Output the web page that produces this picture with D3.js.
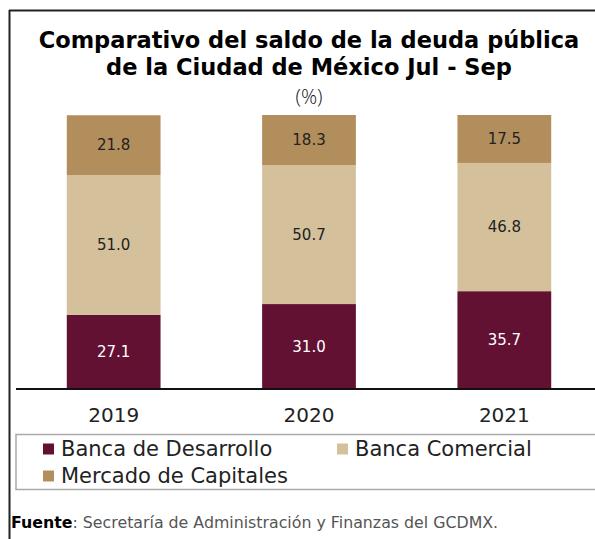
<!DOCTYPE html>
<html>
<head>
<meta charset="utf-8">
<script src="https://cdn.jsdelivr.net/npm/d3@7/dist/d3.min.js"></script>
<style>
  html, body { margin: 0; padding: 0; background: #fff; }
  svg { display: block; font-family: "DejaVu Sans", sans-serif; }
</style>
</head>
<body>
<svg id="chart" width="595" height="539"></svg>
<script>
// Debt composition by source, third quarter, percent of total
const years = ["2019", "2020", "2021"];
const bancaDesarrollo = [27.1, 31.0, 35.7];
const bancaComercial = [51.0, 50.7, 46.8];
const mercadoCapitales = [21.8, 18.3, 17.5];

const seriesNames = ["Banca de Desarrollo", "Banca Comercial", "Mercado de Capitales"];
const seriesColors = ["#621132", "#D4C19C", "#B38E5D"];
const labelColors = ["#ffffff", "#222222", "#222222"];

const rows = years.map((y, i) => ({
  year: y,
  "Banca de Desarrollo": bancaDesarrollo[i],
  "Banca Comercial": bancaComercial[i],
  "Mercado de Capitales": mercadoCapitales[i]
}));

const svg = d3.select("#chart");
const W = 595, H = 539;
const light = "'Open Sans', sans-serif";

// outer frame (left and top edges)
svg.append("line").attr("x1", 9.5).attr("x2", 9.5).attr("y1", 10).attr("y2", H)
  .attr("stroke", "#222").attr("stroke-width", 2);
svg.append("line").attr("x1", 9).attr("x2", W).attr("y1", 10.5).attr("y2", 10.5)
  .attr("stroke", "#222").attr("stroke-width", 2);

// title
svg.append("text").attr("x", 309).attr("y", 48).attr("text-anchor", "middle")
  .attr("font-size", 22.5).attr("font-weight", 700).attr("fill", "#000")
  .text("Comparativo del saldo de la deuda pública");
svg.append("text").attr("x", 309).attr("y", 75).attr("text-anchor", "middle")
  .attr("font-size", 22.5).attr("font-weight", 700).attr("fill", "#000")
  .text("de la Ciudad de México Jul - Sep");
svg.append("text").attr("x", 309).attr("y", 104).attr("text-anchor", "middle")
  .attr("font-size", 20).attr("font-weight", 300).attr("font-family", light).attr("fill", "#111")
  .text("(%)");

// scales
const baseY = 389, topY = 115;
const x = d3.scaleBand().domain(years).range([16, 602]).paddingInner(0.52).paddingOuter(0.26);
const y = d3.scaleLinear().domain([0, 100]).range([baseY, topY]);

const stacked = d3.stack().keys(seriesNames)(rows);

const groups = svg.append("g").selectAll("g").data(stacked).join("g")
  .attr("fill", (d, i) => seriesColors[i]);

groups.selectAll("rect").data(d => d).join("rect")
  .attr("x", d => x(d.data.year))
  .attr("width", x.bandwidth())
  .attr("y", d => y(d[1]))
  .attr("height", d => y(d[0]) - y(d[1]));

// value labels
stacked.forEach((s, si) => {
  svg.append("g").selectAll("text").data(s).join("text")
    .attr("x", d => x(d.data.year) + x.bandwidth() / 2)
    .attr("y", d => (y(d[0]) + y(d[1])) / 2)
    .attr("dy", "0.35em")
    .attr("text-anchor", "middle")
    .attr("font-size", 15)
    .attr("fill", labelColors[si])
    .text(d => (d[1] - d[0]).toFixed(1));
});

// x axis
const xAxis = d3.axisBottom(x).tickSize(0).tickPadding(19);
const ax = svg.append("g").attr("transform", `translate(0,${baseY})`).call(xAxis);
ax.select(".domain").attr("stroke", "#111").attr("stroke-width", 2).attr("d", `M16,0H${W}`);
ax.selectAll(".tick text").attr("font-size", 20).attr("fill", "#222")
  .attr("font-family", "'DejaVu Sans', sans-serif");

// legend
svg.append("rect").attr("x", 16).attr("y", 434.5).attr("width", W).attr("height", 55)
  .attr("fill", "none").attr("stroke", "#aaa").attr("stroke-width", 1.5);
const legendPos = [[43, 449], [337, 449], [43, 476]];
seriesNames.forEach((n, i) => {
  const [lx, ly] = legendPos[i];
  svg.append("rect").attr("x", lx).attr("y", ly - 5.5).attr("width", 11).attr("height", 11)
    .attr("fill", seriesColors[i]);
  svg.append("text").attr("x", lx + 18).attr("y", ly).attr("dy", "0.35em")
    .attr("font-size", 21).attr("fill", "#222").text(n);
});

// source note
const src = svg.append("text").attr("x", 11).attr("y", 528).attr("font-size", 15.8).attr("fill", "#555");
src.append("tspan").attr("fill", "#000").attr("font-weight", 700).text("Fuente");
src.append("tspan").text(": Secretaría de Administración y Finanzas del GCDMX.");
</script>
</body>
</html>
